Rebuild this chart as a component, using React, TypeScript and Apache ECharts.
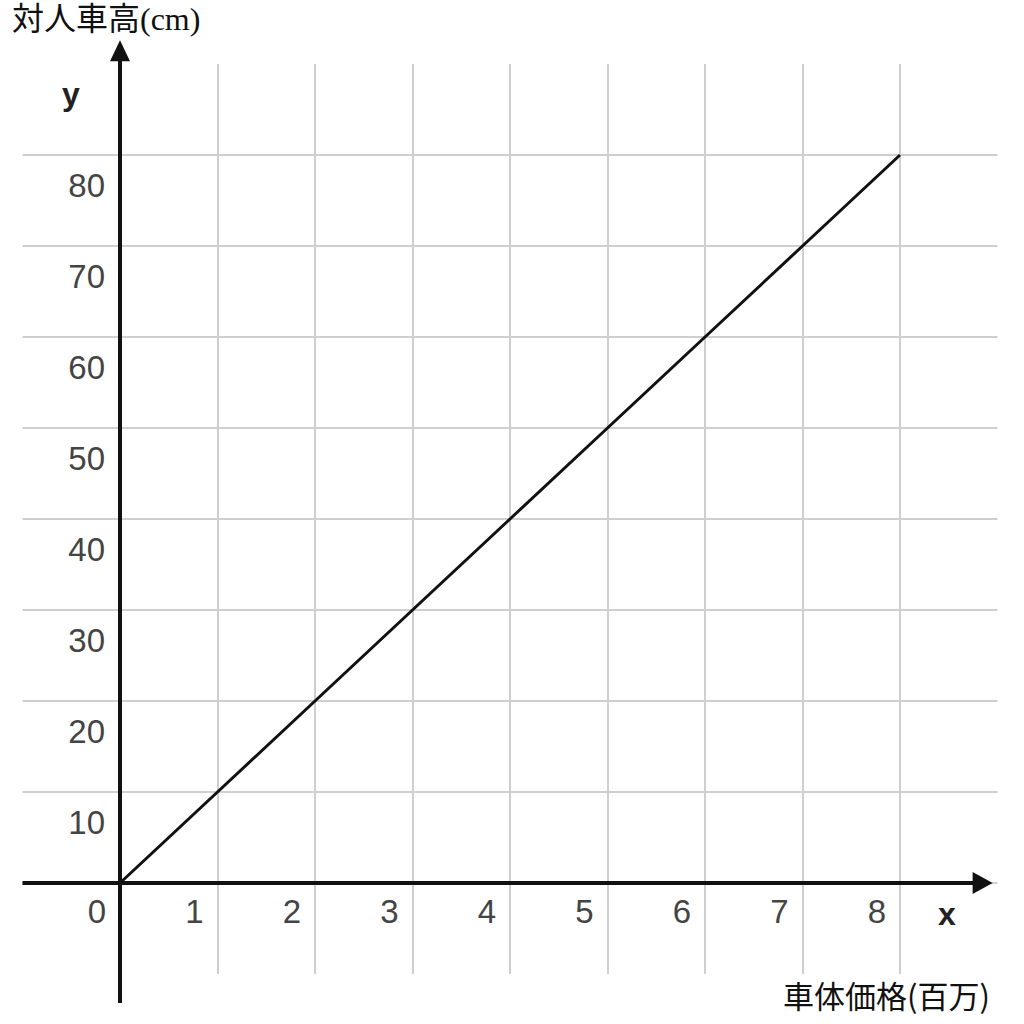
import { useEffect, useRef } from 'react';
import * as echarts from 'echarts';

// values
const priceValues = [0, 1, 2, 3, 4, 5, 6, 7, 8];
const heightValues = [0, 10, 20, 30, 40, 50, 60, 70, 80];
const xTickLabels = ['0', '1', '2', '3', '4', '5', '6', '7', '8'];
const yTickLabels = ['10', '20', '30', '40', '50', '60', '70', '80'];

const yAxisTitle = '対人車高(cm)';
const xAxisTitle = '車体価格(百万)';

const X_MIN = -1;
const X_MAX = 9;
const Y_MIN = -10;
const Y_MAX = 90;

// extents of the drawn axis arrows, in data units
const X_AXIS_FROM = -1;
const X_AXIS_TO = 8.95;
const Y_AXIS_FROM = -13.2;
const Y_AXIS_TO = 92.6;

const labelFont = '"Liberation Sans", Arial, sans-serif';
const cjkFont = '"Liberation Serif", "Noto Sans CJK JP", serif';

export default function App() {
  const containerRef = useRef<HTMLDivElement>(null);

  useEffect(() => {
    if (!containerRef.current) return;
    const chart = echarts.init(containerRef.current, null, { renderer: 'svg' });

    const gridLine = { show: true, showMinLine: false, showMaxLine: false, lineStyle: { color: '#cfcfcf', width: 2 } };

    const option: echarts.EChartsOption = {
      animation: false,
      backgroundColor: '#ffffff',
      grid: { left: 22.5, right: 26.5, top: 64, bottom: 50, outerBoundsMode: 'none' } as any,
      xAxis: {
        type: 'value',
        min: X_MIN,
        max: X_MAX,
        interval: 1,
        position: 'bottom',
        axisLine: { show: false, onZero: false },
        axisTick: { show: false },
        splitLine: gridLine,
        axisLabel: {
          margin: 12,
          fontSize: 33,
          fontFamily: labelFont,
          color: '#444',
          align: 'center',
          verticalAlign: 'top',
          padding: [0, 46, 0, 0],
          formatter: (v: number) => (xTickLabels.includes(String(v)) ? String(v) : '')
        }
      },
      yAxis: {
        type: 'value',
        min: Y_MIN,
        max: Y_MAX,
        interval: 10,
        position: 'left',
        axisLine: { show: false, onZero: false },
        axisTick: { show: false },
        splitLine: gridLine,
        axisLabel: {
          margin: 15,
          fontSize: 33,
          fontFamily: labelFont,
          color: '#444',
          align: 'right',
          verticalAlign: 'top',
          padding: [14, 0, 0, 0],
          formatter: (v: number) => (yTickLabels.includes(String(v)) ? String(v) : '')
        }
      },
      series: [
        {
          type: 'line',
          data: priceValues.map((x, i) => [x, heightValues[i]]),
          symbol: 'none',
          lineStyle: { color: '#111', width: 3 },
          z: 3
        }
      ]
    };

    chart.setOption(option);

    // put the axes (and their labels) on the zero lines, using the chart's own scales
    const toPx = (p: number[]) => chart.convertToPixel({ gridIndex: 0 }, p) as number[];
    const [ax, ay] = toPx([0, 0]);
    const gridLeft = toPx([X_MIN, 0])[0];
    const gridBottom = toPx([0, Y_MIN])[1];
    const yTop = toPx([0, Y_AXIS_TO])[1];
    const yBottom = toPx([0, Y_AXIS_FROM])[1];
    const xLeft = toPx([X_AXIS_FROM, 0])[0];
    const xRight = toPx([X_AXIS_TO, 0])[0];

    chart.setOption({
      xAxis: { offset: -(gridBottom - ay) },
      yAxis: { offset: -(ax - gridLeft) },
      graphic: [
        { type: 'line', z: 10, shape: { x1: ax, y1: yBottom, x2: ax, y2: yTop + 12 }, style: { stroke: '#111', lineWidth: 4 } },
        { type: 'polygon', z: 10, shape: { points: [[ax, yTop], [ax - 10, yTop + 21], [ax + 10, yTop + 21]] }, style: { fill: '#111' } },
        { type: 'line', z: 10, shape: { x1: xLeft, y1: ay, x2: xRight - 12, y2: ay }, style: { stroke: '#111', lineWidth: 4 } },
        { type: 'polygon', z: 10, shape: { points: [[xRight, ay], [xRight - 20, ay - 11], [xRight - 20, ay + 11]] }, style: { fill: '#111' } },
        { type: 'text', z: 10, style: { text: yAxisTitle, x: 12, y: 19, fontSize: 32, fontFamily: cjkFont, fill: '#111', align: 'left', verticalAlign: 'middle' } },
        { type: 'text', z: 10, style: { text: xAxisTitle, x: 990, y: 994, fontSize: 31, fontFamily: '"Noto Sans CJK JP", sans-serif', fill: '#111', align: 'right', verticalAlign: 'middle' } },
        { type: 'text', z: 10, style: { text: 'y', x: 71, y: 94, fontSize: 32, fontWeight: 'bold', fontFamily: labelFont, fill: '#222', align: 'center', verticalAlign: 'middle' } },
        { type: 'text', z: 10, style: { text: 'x', x: 947, y: 914, fontSize: 32, fontWeight: 'bold', fontFamily: labelFont, fill: '#222', align: 'center', verticalAlign: 'middle' } }
      ]
    });

    return () => {
      chart.dispose();
    };
  }, []);

  return (
    <div
      ref={containerRef}
      style={{ position: 'fixed', left: 0, top: 0, width: 1024, height: 1024, background: '#fff' }}
    />
  );
}
